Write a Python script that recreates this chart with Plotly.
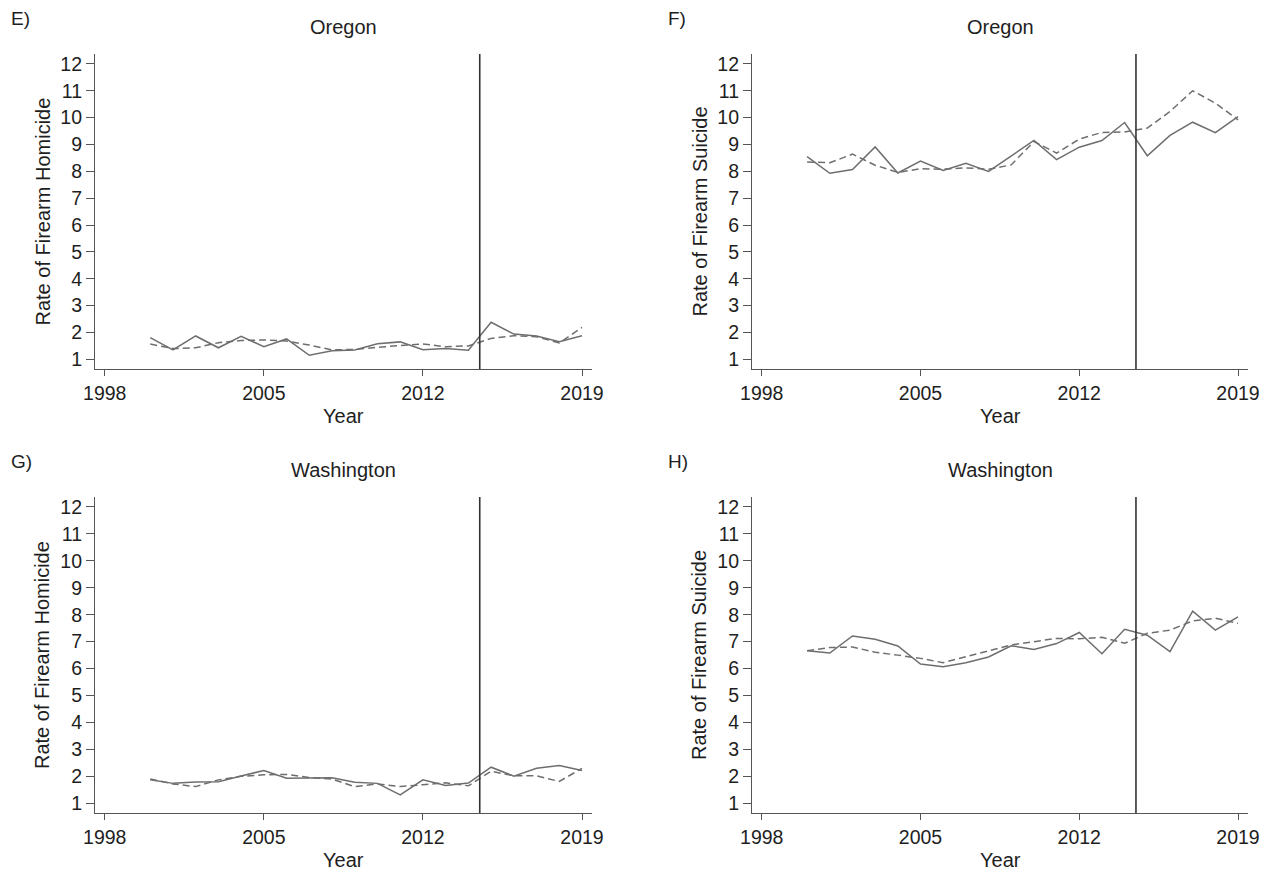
import plotly.graph_objects as go

years = list(range(2000, 2020))

# E) Oregon homicide
or_hom_obs = [1.81, 1.35, 1.87, 1.43, 1.86, 1.47, 1.76, 1.15, 1.32, 1.35,
              1.58, 1.65, 1.36, 1.40, 1.34, 2.38, 1.94, 1.87, 1.66, 1.88]
or_hom_syn = [1.57, 1.40, 1.43, 1.62, 1.70, 1.72, 1.68, 1.53, 1.35, 1.37,
              1.45, 1.50, 1.57, 1.47, 1.50, 1.78, 1.88, 1.84, 1.61, 2.19]
# F) Oregon suicide
or_sui_obs = [8.55, 7.93, 8.07, 8.91, 7.94, 8.38, 8.03, 8.30, 8.00, 8.58,
              9.15, 8.44, 8.90, 9.15, 9.82, 8.58, 9.34, 9.83, 9.44, 10.04]
or_sui_syn = [8.35, 8.32, 8.64, 8.23, 7.96, 8.10, 8.08, 8.13, 8.08, 8.24,
              9.11, 8.68, 9.20, 9.45, 9.47, 9.61, 10.23, 11.00, 10.54, 9.92]
# G) Washington homicide
wa_hom_obs = [1.87, 1.74, 1.79, 1.80, 2.01, 2.22, 1.93, 1.94, 1.95, 1.78,
              1.74, 1.31, 1.87, 1.66, 1.75, 2.34, 2.01, 2.30, 2.40, 2.22]
wa_hom_syn = [1.90, 1.72, 1.62, 1.87, 2.00, 2.06, 2.07, 1.96, 1.90, 1.62,
              1.72, 1.62, 1.69, 1.76, 1.65, 2.19, 2.02, 2.02, 1.81, 2.30]
# H) Washington suicide
wa_sui_obs = [6.66, 6.58, 7.21, 7.09, 6.84, 6.17, 6.07, 6.22, 6.43, 6.85,
              6.71, 6.93, 7.34, 6.55, 7.46, 7.24, 6.63, 8.13, 7.43, 7.92]
wa_sui_syn = [6.66, 6.78, 6.80, 6.61, 6.50, 6.38, 6.22, 6.43, 6.66, 6.88,
              7.00, 7.12, 7.11, 7.16, 6.94, 7.31, 7.43, 7.77, 7.87, 7.68]

policy_year = 2014.5
x_ticks = [1998, 2005, 2012, 2019]
y_ticks = list(range(1, 13))

panels = [
    ("E)", "Oregon", "Rate of Firearm Homicide", or_hom_obs, or_hom_syn),
    ("F)", "Oregon", "Rate of Firearm Suicide", or_sui_obs, or_sui_syn),
    ("G)", "Washington", "Rate of Firearm Homicide", wa_hom_obs, wa_hom_syn),
    ("H)", "Washington", "Rate of Firearm Suicide", wa_sui_obs, wa_sui_syn),
]

W, H = 1271, 872


def px(xp):
    return xp / W


def py(yp):
    return 1 - yp / H


xdoms = [(px(95), px(592)), (px(752), px(1248))]
ydoms = [(py(369), py(54)), (py(813), py(497))]
label_x = [px(9), px(666)]

FONT = "Liberation Sans, Arial, sans-serif"
TXT = "#1e1e1e"
LINE = "#6e6e6e"
AX = "#555555"

fig = go.Figure()
annotations = []
shapes = []

for i, (lab, title, ytitle, obs, syn) in enumerate(panels):
    col = i % 2
    row = i // 2
    n = i + 1
    xa = "x" if n == 1 else f"x{n}"
    ya = "y" if n == 1 else f"y{n}"
    fig.add_trace(go.Scatter(x=years, y=obs, mode="lines", xaxis=xa, yaxis=ya,
                             line=dict(color=LINE, width=1.5), showlegend=False))
    fig.add_trace(go.Scatter(x=years, y=syn, mode="lines", xaxis=xa, yaxis=ya,
                             line=dict(color=LINE, width=1.5, dash="7px,4px"), showlegend=False))
    xkey = "xaxis" if n == 1 else f"xaxis{n}"
    ykey = "yaxis" if n == 1 else f"yaxis{n}"
    fig.update_layout(**{
        xkey: dict(domain=list(xdoms[col]), anchor=ya, range=[1997.57, 2019.44],
                   tickvals=x_ticks, ticks="outside", ticklen=6, tickcolor=AX,
                   showline=True, linecolor=AX, linewidth=1.2, showgrid=False,
                   zeroline=False, automargin=False,
                   tickfont=dict(family=FONT, size=19.5, color=TXT)),
        ykey: dict(domain=list(ydoms[row]), anchor=xa, range=[0.64, 12.37],
                   tickvals=y_ticks, ticks="outside", ticklen=8, tickcolor=AX,
                   showline=True, linecolor=AX, linewidth=1.2, showgrid=False,
                   zeroline=False, automargin=False,
                   tickfont=dict(family=FONT, size=19.5, color=TXT)),
    })
    shapes.append(dict(type="line", xref=xa, yref=f"{ya} domain", x0=policy_year, x1=policy_year,
                       y0=0, y1=1, line=dict(color="#333333", width=1.6)))
    x0, x1 = xdoms[col]
    y0, y1 = ydoms[row]
    annotations.append(dict(text=title, xref="paper", yref="paper", x=(x0 + x1) / 2, y=y1 + 27 / H,
                            showarrow=False, xanchor="center", yanchor="middle",
                            font=dict(family=FONT, size=20, color=TXT)))
    annotations.append(dict(text="Year", xref="paper", yref="paper", x=(x0 + x1) / 2, y=y0 - 47 / H,
                            showarrow=False, xanchor="center", yanchor="middle",
                            font=dict(family=FONT, size=20, color=TXT)))
    annotations.append(dict(text=ytitle, xref="paper", yref="paper", x=x0 - 53 / W, y=(y0 + y1) / 2,
                            showarrow=False, xanchor="center", yanchor="middle", textangle=-90,
                            font=dict(family=FONT, size=20, color=TXT)))
    annotations.append(dict(text=lab, xref="paper", yref="paper", x=label_x[col], y=y1 + 36 / H,
                            showarrow=False, xanchor="left", yanchor="middle",
                            font=dict(family=FONT, size=19, color=TXT)))

fig.update_layout(width=W, height=H, margin=dict(l=0, r=0, t=0, b=0),
                  paper_bgcolor="white", plot_bgcolor="white",
                  annotations=annotations, shapes=shapes)
fig.write_html("out.html", config={"displayModeBar": False},
               post_script="document.body.style.margin='0';document.body.style.overflow='hidden';")
